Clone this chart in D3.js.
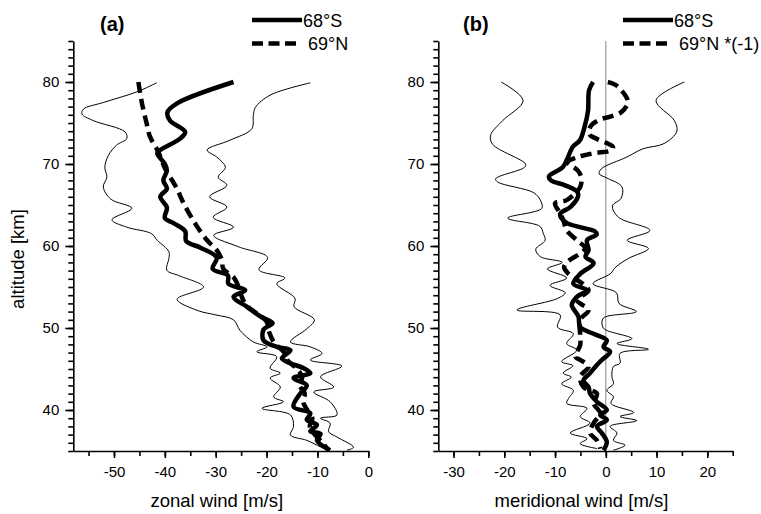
<!DOCTYPE html>
<html>
<head>
<meta charset="utf-8">
<script src="https://cdn.jsdelivr.net/npm/d3@7"></script>
<style>
  body { margin: 0; background: #fff; }
  svg { display: block; font-family: "Liberation Sans", Arial, sans-serif; }
  .axis path, .axis line { stroke: #000; stroke-width: 1.6; }
  .axis text { font-size: 15px; fill: #000; }
</style>
</head>
<body>
<div id="chart"></div>
<script>
/* DATA: [altitude km, wind m/s] */

// (a) zonal wind
const zonal68S = [[80.0,-26.5],[77.4,-37.6],[76.3,-39.5],[75.3,-39.0],[73.9,-36.0],[73.1,-37.0],[71.7,-40.9],[71.3,-41.5],[70.0,-40.0],[69.2,-39.6],[68.0,-40.3],[67.0,-39.6],[66.0,-40.9],[64.7,-39.6],[63.4,-40.0],[62.8,-38.3],[61.8,-36.0],[60.6,-35.8],[59.8,-33.0],[58.6,-29.8],[57.2,-30.6],[56.4,-27.6],[55.4,-27.5],[54.6,-24.2],[53.8,-26.5],[52.6,-23.9],[51.4,-21.2],[50.6,-18.8],[49.8,-20.6],[48.5,-20.6],[47.7,-18.0],[47.3,-15.3],[46.3,-17.0],[45.7,-15.3],[45.1,-12.7],[44.5,-11.4],[43.9,-14.7],[43.0,-12.1],[42.0,-13.4],[40.4,-14.7],[39.6,-11.4],[38.8,-12.1],[38.2,-10.1],[37.4,-11.4],[37.1,-9.4],[36.3,-10.1],[35.1,-7.5]];
const zonal69N = [[80.0,-45.2],[77.4,-44.5],[75.0,-43.6],[73.3,-42.9],[71.5,-41.3],[69.5,-40.0],[67.2,-37.8],[65.2,-36.3],[62.7,-34.0],[60.7,-31.7],[59.5,-29.8],[58.3,-28.8],[57.2,-28.5],[56.2,-26.5],[55.0,-25.5],[54.0,-25.0],[52.8,-24.0],[51.8,-22.0],[50.8,-20.0],[49.5,-19.5],[48.2,-18.5],[47.0,-16.5],[46.0,-15.8],[45.0,-14.0],[44.0,-13.0],[43.0,-13.5],[42.0,-12.5],[41.0,-12.8],[40.0,-12.0],[39.0,-11.0],[38.0,-11.5],[37.0,-10.5],[36.0,-9.0],[35.2,-8.0]];
const zonalLow = [[79.9,-41.6],[78.8,-45.5],[77.5,-52.1],[76.7,-56.0],[76.1,-56.3],[75.3,-54.1],[73.9,-47.8],[73.1,-47.5],[72.3,-49.5],[71.05,-51.1],[69.6,-51.8],[68.4,-51.4],[67.2,-52.1],[65.7,-50.6],[64.6,-46.5],[63.2,-50.4],[62.3,-47.5],[61.5,-42.6],[60.7,-41.5],[59.3,-39.2],[58.5,-39.2],[57.05,-39.6],[56.4,-37.3],[55.0,-32.4],[53.5,-37.6],[52.1,-33.4],[51.6,-30.0],[51.0,-26.5],[49.7,-25.2],[48.3,-22.6],[47.7,-19.9],[47.1,-21.9],[46.5,-18.0],[45.1,-19.3],[44.5,-17.3],[43.9,-19.3],[42.8,-17.3],[41.6,-18.6],[41.0,-16.7],[40.2,-20.9],[39.4,-15.3],[38.0,-14.7],[36.95,-15.3],[36.3,-12.1],[35.5,-9.4],[35.1,-8.1]];
const zonalHigh = [[79.9,-11.4],[78.4,-19.3],[76.9,-22.2],[75.9,-22.6],[74.3,-22.9],[72.9,-27.2],[71.7,-31.7],[70.85,-29.8],[69.6,-28.1],[68.4,-29.5],[67.4,-27.8],[66.0,-31.2],[64.75,-27.8],[63.5,-30.5],[62.3,-26.5],[61.3,-30.4],[59.9,-25.5],[58.6,-19.8],[57.1,-21.5],[56.1,-16.4],[55.4,-18.0],[53.6,-14.4],[52.6,-14.6],[51.0,-10.6],[49.9,-12.1],[48.3,-15.3],[47.7,-11.4],[46.9,-9.1],[46.1,-11.4],[45.35,-5.2],[44.05,-9.4],[42.8,-6.8],[42.2,-10.75],[41.0,-7.5],[39.4,-6.15],[39.0,-9.4],[38.4,-7.5],[37.35,-7.8],[36.7,-6.15],[35.45,-2.9],[35.1,-4.2]];

// (b) meridional wind
const merid68S = [[80.0,-2.5],[79.0,-3.3],[76.5,-3.5],[74.5,-4.2],[72.9,-5.1],[72.1,-6.5],[70.6,-7.6],[69.6,-8.5],[68.5,-11.2],[68.0,-10.8],[67.4,-8.0],[66.6,-5.6],[66.0,-5.5],[64.75,-7.0],[63.9,-9.0],[62.9,-7.9],[62.2,-4.5],[61.8,-2.2],[61.4,-1.8],[60.7,-3.7],[59.5,-3.4],[58.7,-4.0],[57.9,-2.4],[56.6,-5.05],[55.4,-6.4],[54.6,-3.7],[53.8,-5.7],[52.8,-6.7],[51.4,-5.4],[50.1,-5.05],[49.3,-2.4],[48.5,0.2],[47.7,-0.45],[47.1,0.85],[46.1,-0.8],[45.5,-1.75],[44.5,-3.1],[43.6,-4.4],[42.8,-3.4],[42.0,-3.1],[41.0,-1.75],[40.0,0.2],[39.4,-1.1],[38.8,0.2],[38.0,-1.75],[37.2,-0.8],[36.1,0.2],[35.1,-0.45]];
const merid69N = [[80.0,0.4],[79.6,2.05],[78.2,4.0],[77.5,4.35],[76.3,3.0],[75.3,-1.55],[74.6,-3.0],[73.6,-3.2],[73.1,-1.9],[72.1,1.4],[71.7,1.2],[71.3,-2.55],[70.8,-5.8],[70.2,-7.5],[69.2,-5.5],[68.4,-4.85],[67.2,-5.05],[65.6,-7.7],[65.2,-10.0],[64.0,-9.0],[63.1,-8.35],[61.9,-7.7],[60.7,-5.7],[59.7,-4.1],[58.05,-7.6],[57.4,-8.2],[56.6,-7.35],[54.6,-3.4],[53.4,-5.7],[52.2,-3.4],[51.0,-5.05],[49.1,-5.05],[47.9,-5.05],[46.5,-6.0],[46.1,-5.0],[45.3,-3.4],[44.05,-5.05],[42.8,-4.4],[42.0,-1.75],[40.8,-2.4],[39.6,-1.1],[38.4,-2.4],[37.2,-3.1],[36.3,-1.75],[35.3,-1.1]];
const meridLow = [[80.0,-20.6],[77.75,-16.3],[75.3,-20.3],[73.5,-22.7],[72.4,-22.3],[70.0,-15.8],[69.6,-16.0],[68.2,-21.7],[67.8,-21.3],[66.5,-14.2],[65.6,-12.9],[64.6,-12.6],[63.4,-19.3],[62.4,-13.0],[61.5,-12.3],[60.7,-11.95],[59.6,-13.8],[58.7,-12.9],[58.0,-8.6],[57.2,-11.5],[56.1,-7.7],[55.2,-11.0],[54.3,-8.0],[53.6,-9.5],[52.2,-17.5],[51.6,-9.0],[50.1,-9.5],[49.3,-6.4],[48.1,-7.7],[47.3,-5.7],[45.9,-8.7],[45.4,-6.5],[44.5,-8.4],[44.0,-6.8],[43.2,-8.7],[42.4,-6.4],[41.4,-7.35],[40.8,-7.7],[40.2,-3.7],[39.2,-5.05],[38.4,-3.1],[37.2,-7.0],[36.5,-3.7],[35.9,-5.05],[35.3,-1.75]];
const meridHigh = [[80.0,15.5],[77.75,9.9],[75.3,13.5],[74.0,14.0],[72.5,11.5],[71.85,7.3],[70.85,4.15],[69.4,-0.9],[68.8,-1.3],[68.3,0.2],[67.2,3.2],[65.8,3.0],[64.9,1.3],[63.5,2.5],[61.9,8.7],[60.7,4.2],[59.7,8.4],[58.5,4.5],[57.45,2.0],[56.6,0.85],[55.4,-2.5],[54.3,2.1],[53.0,2.6],[52.0,6.0],[51.2,-0.5],[50.1,-0.6],[49.7,0.2],[48.7,5.15],[48.1,2.2],[47.4,8.4],[46.9,2.8],[45.7,2.8],[45.3,1.5],[44.05,1.2],[43.2,1.5],[42.4,0.2],[41.6,1.5],[40.8,1.0],[39.7,5.5],[39.2,2.8],[38.7,6.1],[38.0,0.85],[37.2,2.2],[36.3,1.5],[35.7,3.8],[35.1,1.5]];

const altDomain = [35, 85];
const altTicks = [40, 50, 60, 70, 80];
const zonalDomain = [-58, 0];
const zonalTicks = [-50, -40, -30, -20, -10, 0];
const meridDomain = [-33, 25];
const meridTicks = [-30, -20, -10, 0, 10, 20];

/* LAYOUT */
const width = 761, height = 514;
const plotTop = 41, plotBottom = 451;

const svg = d3.select("#chart").append("svg")
    .attr("width", width)
    .attr("height", height);

const y = d3.scaleLinear().domain(altDomain).range([plotBottom, plotTop]);

function drawPanel(opts) {
    const x = d3.scaleLinear().domain(opts.domain).range([opts.left, opts.right]);
    const g = svg.append("g");

    // zero line
    if (opts.zeroLine) {
        g.append("line")
            .attr("x1", x(0)).attr("x2", x(0))
            .attr("y1", plotTop).attr("y2", plotBottom)
            .attr("stroke", "#888").attr("stroke-width", 1);
    }

    const line = d3.line()
        .x(d => x(d[1]))
        .y(d => y(d[0]))
        .curve(d3.curveCatmullRom.alpha(0.5));

    const sorted = s => s.slice().sort((a, b) => b[0] - a[0]);

    g.append("path").datum(sorted(opts.low)).attr("d", line)
        .attr("fill", "none").attr("stroke", "#000").attr("stroke-width", 1);
    g.append("path").datum(sorted(opts.high)).attr("d", line)
        .attr("fill", "none").attr("stroke", "#000").attr("stroke-width", 1);
    g.append("path").datum(sorted(opts.north)).attr("d", line)
        .attr("fill", "none").attr("stroke", "#000").attr("stroke-width", 4.5)
        .attr("stroke-dasharray", "11,6");
    g.append("path").datum(sorted(opts.south)).attr("d", line)
        .attr("fill", "none").attr("stroke", "#000").attr("stroke-width", 4.5)
        .attr("stroke-linejoin", "round");

    // y axis: minor every 1 km, major every 10 km
    g.append("g").attr("class", "axis")
        .attr("transform", `translate(${opts.left},0)`)
        .call(d3.axisLeft(y).tickValues(d3.range(35, 86, 1)).tickSize(5).tickFormat(""))
        .call(a => a.select(".domain").remove());
    g.append("g").attr("class", "axis")
        .attr("transform", `translate(${opts.left},0)`)
        .call(d3.axisLeft(y).tickValues(altTicks).tickSize(8).tickSizeOuter(0).tickPadding(6).tickFormat(d => String(d)));

    // x axis: minor every 5, major every 10
    const minorX = d3.range(Math.ceil(opts.domain[0] / 5) * 5, opts.domain[1] + 0.1, 5);
    g.append("g").attr("class", "axis")
        .attr("transform", `translate(0,${plotBottom})`)
        .call(d3.axisBottom(x).tickValues(minorX).tickSize(5).tickFormat(""))
        .call(a => a.select(".domain").remove());
    g.append("g").attr("class", "axis")
        .attr("transform", `translate(0,${plotBottom})`)
        .call(d3.axisBottom(x).tickValues(opts.ticks).tickSize(7).tickSizeOuter(0).tickPadding(8).tickFormat(d => String(d)));

    // x label
    svg.append("text")
        .attr("x", (opts.left + opts.right) / 2 - 4)
        .attr("y", 507)
        .attr("text-anchor", "middle")
        .style("font-size", "18.5px")
        .text(opts.xLabel);

    // panel label
    svg.append("text")
        .attr("x", opts.tagX)
        .attr("y", 31)
        .style("font-size", "20px")
        .style("font-weight", "bold")
        .text(opts.tag);

    // legend
    const lg = svg.append("g");
    lg.append("line")
        .attr("x1", opts.legX).attr("x2", opts.legX + 50)
        .attr("y1", 20).attr("y2", 20)
        .attr("stroke", "#000").attr("stroke-width", 4.5);
    lg.append("text")
        .attr("x", opts.legX + 51).attr("y", 27)
        .style("font-size", "18px")
        .text("68°S");
    lg.append("line")
        .attr("x1", opts.legX).attr("x2", opts.legX + 44)
        .attr("y1", 43.5).attr("y2", 43.5)
        .attr("stroke", "#000").attr("stroke-width", 4.5)
        .attr("stroke-dasharray", "11,5.5");
    lg.append("text")
        .attr("x", opts.legX + 56).attr("y", 50)
        .style("font-size", "18px")
        .text(opts.northLabel);
}

drawPanel({
    left: 73.3, right: 368.3, domain: zonalDomain, ticks: zonalTicks,
    south: zonal68S, north: zonal69N, low: zonalLow, high: zonalHigh,
    xLabel: "zonal wind [m/s]", tag: "(a)", tagX: 100, legX: 252,
    northLabel: "69°N", zeroLine: false
});

drawPanel({
    left: 438.3, right: 732.7, domain: meridDomain, ticks: meridTicks,
    south: merid68S, north: merid69N, low: meridLow, high: meridHigh,
    xLabel: "meridional wind [m/s]", tag: "(b)", tagX: 463, legX: 623,
    northLabel: "69°N *(-1)", zeroLine: true
});

// y label
svg.append("text")
    .attr("transform", "translate(24,259) rotate(-90)")
    .attr("text-anchor", "middle")
    .style("font-size", "18.5px")
    .text("altitude [km]");
</script>
</body>
</html>
